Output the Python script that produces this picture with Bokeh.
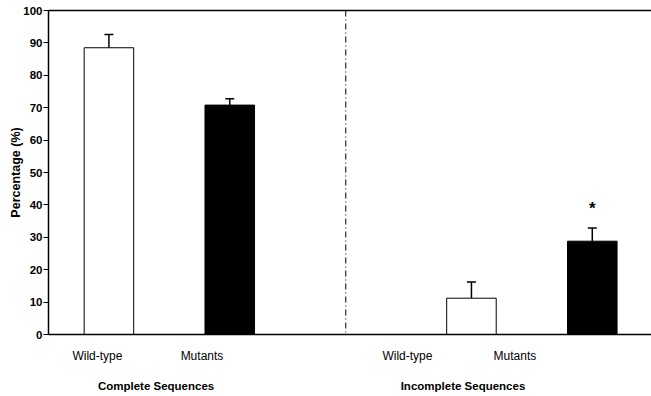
from bokeh.plotting import figure
from bokeh.models import (ColumnDataSource, Range1d, LinearAxis, FixedTicker, Whisker,
                          TeeHead, Span)
from bokeh.core.properties import value
from bokeh.embed import file_html
from bokeh.resources import INLINE

# data
bar_labels = ["Wild-type", "Mutants", "Wild-type", "Mutants"]
group_labels = ["Complete Sequences", "Incomplete Sequences"]
bar_x = [1, 2, 4, 5]
means = [88.5, 70.8, 11.2, 28.8]
errors = [4.1, 2.0, 5.0, 4.1]
fills = ["white", "black", "white", "black"]
significant = [False, False, False, True]
y_ticks = [0, 10, 20, 30, 40, 50, 60, 70, 80, 90, 100]

FONT = "Liberation Sans"

src = ColumnDataSource(dict(
    x=bar_x, top=means, err=errors, fill=fills,
    upper=[m + e for m, e in zip(means, errors)],
))

p = figure(width=651, height=396, output_backend="svg", toolbar_location=None,
           x_range=Range1d(0.5, 5.49), y_range=Range1d(0, 100),
           min_border_left=48, min_border_right=0, min_border_top=10, min_border_bottom=62,
           x_axis_type=None, y_axis_type=None)
p.outline_line_color = None
p.xgrid.visible = False
p.ygrid.visible = False
p.background_fill_color = "white"
p.border_fill_color = "white"

p.vbar(x="x", top="top", bottom=0, width=0.41, source=src,
       fill_color="fill", line_color="black", line_width=1)

p.add_layout(Whisker(base="x", lower="top", upper="upper", source=src,
                     lower_head=None,
                     upper_head=TeeHead(size=9, line_width=1.5, line_color="black"),
                     line_width=1.5, line_color="black"))

# significance marker
sx = [x for x, s in zip(bar_x, significant) if s]
sy = [m + e + 3 for m, e, s in zip(means, errors, significant) if s]
p.text(x=sx, y=sy, text=["*"] * len(sx), text_align="center", text_baseline="bottom",
       text_font=value(FONT), text_font_style="bold", text_font_size="17px",
       text_color="black")

# divider between groups
p.add_layout(Span(location=2.96, dimension="height", line_color="black",
                  line_width=1, line_dash="6 3 1 3"))

# y axis
yax = LinearAxis(ticker=FixedTicker(ticks=y_ticks), axis_label="Percentage (%)")
yax.axis_line_width = 1.5
yax.axis_line_color = "black"
yax.major_tick_line_color = "black"
yax.major_tick_out = 5
yax.major_tick_in = 0
yax.minor_tick_line_color = None
yax.major_label_standoff = 1
yax.major_label_text_font = FONT
yax.major_label_text_font_style = "bold"
yax.major_label_text_font_size = "11.5px"
yax.major_label_text_color = "black"
yax.axis_label_text_font = FONT
yax.axis_label_text_font_style = "bold"
yax.axis_label_text_font_size = "12.5px"
yax.axis_label_text_color = "black"
yax.axis_label_standoff = -3
p.add_layout(yax, "left")

# top border line
top = LinearAxis(ticker=FixedTicker(ticks=[]))
top.axis_line_width = 1.5
top.axis_line_color = "black"
top.major_tick_line_color = None
top.minor_tick_line_color = None
top.major_label_text_font_size = "0px"
top.major_tick_out = 0
top.major_label_standoff = 0
p.add_layout(top, "above")

# x axis with bar labels
tick_pos = [0.905, 1.77, 3.47, 4.36]
xax = LinearAxis(ticker=FixedTicker(ticks=tick_pos),
                 major_label_overrides={t: l for t, l in zip(tick_pos, bar_labels)})
xax.axis_line_width = 1.5
xax.axis_line_color = "black"
xax.major_tick_line_color = None
xax.minor_tick_line_color = None
xax.major_tick_out = 0
xax.major_tick_in = 0
xax.major_label_standoff = 14
xax.major_label_text_font = FONT
xax.major_label_text_font_size = "12px"
xax.major_label_text_color = "black"
p.add_layout(xax, "below")

# group labels axis
gpos = [1.39, 3.93]
gax = LinearAxis(ticker=FixedTicker(ticks=gpos),
                 major_label_overrides={t: l for t, l in zip(gpos, group_labels)})
gax.axis_line_color = None
gax.major_tick_line_color = None
gax.minor_tick_line_color = None
gax.major_tick_out = 0
gax.major_tick_in = 0
gax.major_label_standoff = 14
gax.major_label_text_font = FONT
gax.major_label_text_font_style = "bold"
gax.major_label_text_font_size = "11.5px"
gax.major_label_text_color = "black"
p.add_layout(gax, "below")

open("out.html", "w").write(file_html(p, INLINE))
